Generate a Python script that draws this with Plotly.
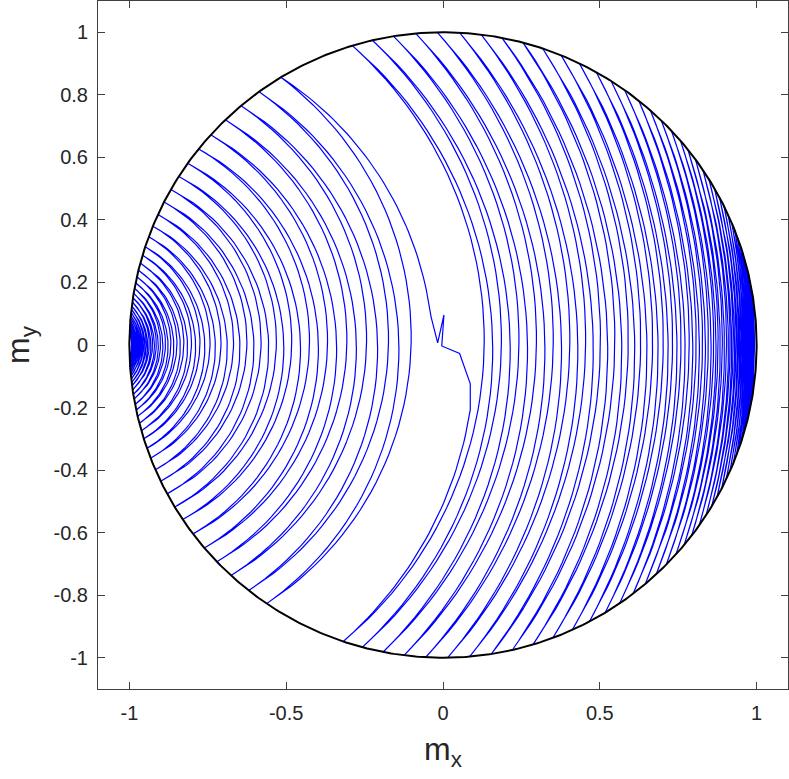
import numpy as np
import plotly.graph_objects as go

# ---------------- tick labels ----------------
x_tick_vals = [-1, -0.5, 0, 0.5, 1]
x_tick_text = ["-1", "-0.5", "0", "0.5", "1"]
y_tick_vals = [-1, -0.8, -0.6, -0.4, -0.2, 0, 0.2, 0.4, 0.6, 0.8, 1]
y_tick_text = ["-1", "-0.8", "-0.6", "-0.4", "-0.2", "0", "0.2", "0.4", "0.6", "0.8", "1"]

# ---------------- trajectory data ----------------
# precession orbits are arcs around a common centre on the m_x axis
orbit_center_x = -1.13
boundary_radius = 1.0

# left family (around m_x = -1): |m_y| of the turning points on the circle,
# upper (m_y > 0) and lower (m_y < 0), outermost first
left_top_y = [0.856, 0.81, 0.765, 0.72, 0.672, 0.627, 0.581, 0.539, 0.497, 0.457,
              0.417, 0.38, 0.346, 0.314, 0.287, 0.262, 0.239, 0.218, 0.199, 0.181,
              0.165, 0.151, 0.138, 0.125, 0.114, 0.104, 0.095, 0.087, 0.079, 0.072,
              0.066, 0.06, 0.055, 0.05, 0.046, 0.042]
left_bot_y = [0.827, 0.785, 0.737, 0.693, 0.649, 0.604, 0.558, 0.518, 0.476, 0.436,
              0.399, 0.362, 0.33, 0.3, 0.274, 0.25, 0.228, 0.208, 0.19, 0.173,
              0.158, 0.144, 0.131, 0.12, 0.109, 0.1, 0.091, 0.083, 0.076, 0.069,
              0.063, 0.057, 0.052, 0.048, 0.044, 0.040]

# right family (towards m_x = +1): m_x of turning points, lower / upper
right_bot_x = [-0.318, -0.257, -0.191, -0.124, -0.055, 0.015, 0.085, 0.154, 0.221, 0.287,
               0.35, 0.412, 0.467, 0.517, 0.563, 0.606, 0.645, 0.68, 0.712, 0.743,
               0.769, 0.793, 0.817, 0.839, 0.857, 0.874, 0.889, 0.903, 0.915, 0.926,
               0.936, 0.944, 0.952, 0.958, 0.964, 0.969, 0.973, 0.977, 0.980, 0.984, 0.987]
right_top_x = [-0.289, -0.225, -0.158, -0.087, -0.018, 0.053, 0.122, 0.188, 0.255, 0.318,
               0.377, 0.435, 0.489, 0.536, 0.579, 0.624, 0.661, 0.696, 0.728, 0.757,
               0.781, 0.805, 0.829, 0.848, 0.866, 0.882, 0.896, 0.909, 0.921, 0.931,
               0.940, 0.948, 0.955, 0.961, 0.967, 0.971, 0.975, 0.979, 0.982, 0.985, 0.988]

# coarse jump through the centre
jag_x = [-0.053, -0.038, -0.017, 0.003, -0.004, 0.053, 0.087, 0.087]
jag_y = [0.175, 0.09, 0.007, 0.096, -0.003, -0.027, -0.124, -0.207]


def spiral(pa, pb, cx, n=60):
    xa, ya = pa
    xb, yb = pb
    ra = np.hypot(xa - cx, ya)
    rb = np.hypot(xb - cx, yb)
    aa = np.arctan2(ya, xa - cx)
    ab = np.arctan2(yb, xb - cx)
    t = np.linspace(0.0, 1.0, n)
    r = ra + t * (rb - ra)
    a = aa + t * (ab - aa)
    return list(cx + r * np.cos(a)), list(r * np.sin(a))


def on_circle_left(y):
    return (-np.sqrt(boundary_radius ** 2 - y ** 2), y)


def on_circle_x(x, sign):
    return (x, sign * np.sqrt(boundary_radius ** 2 - x ** 2))


# sequence of turning points
left_pts = []
for ty, by in zip(left_top_y, left_bot_y):
    left_pts.append(on_circle_left(ty))
    left_pts.append(on_circle_left(-by))
left_pts = left_pts[::-1]  # innermost first, ends at outermost upper point

right_pts = []
for bx, tx in zip(right_bot_x, right_top_x):
    right_pts.append(on_circle_x(bx, -1))
    right_pts.append(on_circle_x(tx, +1))

px, py = [], []
for a, b in zip(left_pts[:-1], left_pts[1:]):
    sx, sy = spiral(a, b, orbit_center_x)
    px += sx
    py += sy

# jump through the centre
sx, sy = spiral(left_pts[-1], (jag_x[0], jag_y[0]), orbit_center_x, 40)
px += sx
py += sy
px += jag_x[1:-1]
py += jag_y[1:-1]
sx, sy = spiral((jag_x[-1], jag_y[-1]), right_pts[0], orbit_center_x, 40)
px += sx
py += sy

for a, b in zip(right_pts[:-1], right_pts[1:]):
    sx, sy = spiral(a, b, orbit_center_x)
    px += sx[1:]
    py += sy[1:]

theta = np.linspace(0, 2 * np.pi, 721)
cx_b = boundary_radius * np.cos(theta)
cy_b = boundary_radius * np.sin(theta)

fig = go.Figure()
fig.add_trace(go.Scatter(x=px, y=py, mode="lines",
                         line=dict(color="#0000ff", width=1.2), hoverinfo="skip"))
fig.add_trace(go.Scatter(x=cx_b, y=cy_b, mode="lines",
                         line=dict(color="#000000", width=2), hoverinfo="skip"))

axis_col = "#404040"
text_col = "#262626"
font_fam = "Liberation Sans, Arial, sans-serif"
common = dict(showgrid=False, zeroline=False, showline=True, mirror="allticks",
              linecolor=axis_col, linewidth=1, ticks="inside", ticklen=7,
              tickcolor=axis_col, tickwidth=1, automargin=False,
              tickfont=dict(family=font_fam, size=20, color=text_col))

fig.update_layout(
    width=789, height=779,
    margin=dict(l=98, r=1, t=1, b=90),
    plot_bgcolor="white", paper_bgcolor="white",
    showlegend=False,
    xaxis=dict(range=[-1.1, 1.1], tickvals=x_tick_vals, ticktext=x_tick_text,
               ticklabelstandoff=6,
               title=dict(text="m<sub>x</sub>", font=dict(family=font_fam, size=32, color=text_col),
                          standoff=14),
               **common),
    yaxis=dict(range=[-1.1, 1.1], tickvals=y_tick_vals, ticktext=y_tick_text,
               ticklabelstandoff=5,
               title=dict(text="m<sub>y</sub>", font=dict(family=font_fam, size=32, color=text_col),
                          standoff=35),
               **common),
)

fig.write_html("out.html",
               config={"displayModeBar": False},
               post_script="document.body.style.margin='0';document.body.style.overflow='hidden';")
